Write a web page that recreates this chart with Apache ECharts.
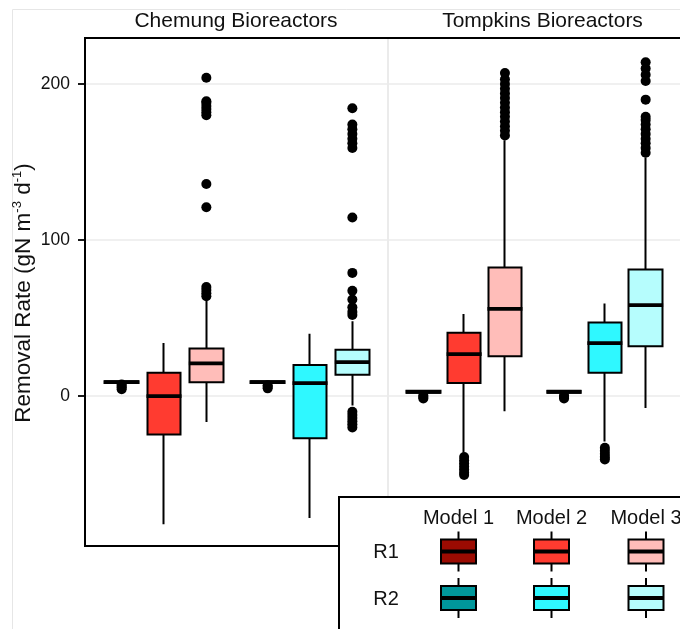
<!DOCTYPE html>
<html>
<head>
  <meta charset="UTF-8">
  <title>Removal Rate by Bioreactor</title>
  <script src="https://cdn.jsdelivr.net/npm/echarts@6/dist/echarts.min.js"></script>
  <style>
    html, body { margin: 0; padding: 0; background: #fff; }
    #chart { width: 680px; height: 629px; }
  </style>
</head>
<body>
  <div id="chart"></div>
  <script>
    // categories
    const facets = ['Chemung Bioreactors', 'Tompkins Bioreactors'];
    const reps = ['R1', 'R2'];
    const models = ['Model 1', 'Model 2', 'Model 3'];
    const yTicks = [0, 100, 200];

    // box stats: [lower whisker, Q1, median, Q3, upper whisker]
    // order: R1 Model 1..3, R2 Model 1..3
    const chemungStats = [
      [8, 8.5, 9, 9.5, 10],
      [-82, -24.5, 0, 15, 34],
      [-16.5, 9, 21, 30.5, 61],
      [8, 8.5, 9, 9.5, 10],
      [-78, -27, 8.3, 20, 40],
      [-6, 13.7, 21.8, 29.7, 48]
    ];
    const tompkinsStats = [
      [1.5, 2.2, 2.8, 3.4, 4],
      [-36, 8.5, 27, 40.6, 52.6],
      [-9.6, 25.6, 56, 82.5, 164],
      [1.5, 2.2, 2.8, 3.4, 4],
      [-29, 15, 34, 47.2, 59.4],
      [-7.5, 32, 58.3, 81.2, 153]
    ];

    // outliers, same order
    const chemungOutliers = [
      [4.5, 5.5, 6.5, 7.5],
      [],
      [64, 66, 68, 70, 121, 136, 180, 182, 184, 186, 188, 189, 204],
      [5, 6, 7],
      [],
      [-20, -18, -16, -14, -12, -10, 52, 54, 57, 62, 67.5, 79, 114.5, 159, 162, 165, 168, 171, 174, 184.5]
    ];
    const tompkinsOutliers = [
      [-1.5, -0.5, 0.5],
      [-39, -41, -43, -45, -47, -49, -50.5],
      [167, 170, 173, 176, 179, 182, 185, 188, 191, 194, 197, 200, 203, 207],
      [-1.5, -0.5, 0.5],
      [-33, -35, -37, -39, -40.5],
      [156, 159, 162, 165, 168, 171, 174, 177, 179, 190, 202, 206, 210, 214]
    ];

    const fills = [
      ['#9b0b02', '#ff3b30', '#ffbdb9'],
      ['#00979b', '#2ff8ff', '#b6fdfd']
    ];
    const font = 'Liberation Sans, Arial, sans-serif';
    const gridColor = '#ebebeb';
    const lw = 2;

    // dodge: rep is the category, models side by side
    function xPos(i) {
      const rep = Math.floor(i / models.length);
      const m = i % models.length;
      return rep + 1 + (m - 1) * 0.29;
    }
    function fillOf(i) {
      return fills[Math.floor(i / models.length)][i % models.length];
    }

    const stats = [chemungStats, tompkinsStats];
    const outliers = [chemungOutliers, tompkinsOutliers];

    const series = [];
    stats.forEach(function (st, f) {
      series.push({
        type: 'candlestick',
        xAxisIndex: f,
        yAxisIndex: f,
        barWidth: 34,
        z: 2,
        data: st.map(function (s, i) {
          return {
            value: [xPos(i), s[1], s[3], s[0], s[4]],
            itemStyle: {
              color: fillOf(i), color0: fillOf(i),
              borderColor: '#000', borderColor0: '#000', borderWidth: lw
            }
          };
        })
      });
      series.push({
        type: 'scatter',
        xAxisIndex: f,
        yAxisIndex: f,
        symbol: 'circle',
        symbolSize: 10,
        z: 3,
        itemStyle: { color: '#000', opacity: 1 },
        data: outliers[f].flatMap(function (vals, i) {
          return vals.map(function (v) { return [xPos(i), v]; });
        })
      });
      series.push({
        type: 'scatter',
        xAxisIndex: f,
        yAxisIndex: f,
        symbol: 'rect',
        symbolSize: [35, 3.8],
        z: 4,
        itemStyle: { color: '#000', opacity: 1 },
        data: st.map(function (s, i) { return [xPos(i), s[2]]; })
      });
    });

    // legend keys
    const legendCols = [458.5, 551.5, 646];
    const legendRows = [539.5, 586];
    const legendEls = [
      { type: 'rect', z: 20, shape: { x: 339, y: 497, width: 400, height: 200 },
        style: { fill: '#fff', stroke: '#000', lineWidth: 2 } }
    ];
    models.forEach(function (m, c) {
      legendEls.push({ type: 'text', z: 21, x: legendCols[c], y: 518,
        style: { text: m, fontSize: 20, fontFamily: font, fill: '#111', align: 'center', verticalAlign: 'middle' } });
    });
    reps.forEach(function (r, ri) {
      legendEls.push({ type: 'text', z: 21, x: 386, y: legendRows[ri] + 13,
        style: { text: r, fontSize: 20, fontFamily: font, fill: '#111', align: 'center', verticalAlign: 'middle' } });
      legendCols.forEach(function (cx, c) {
        const top = legendRows[ri];
        legendEls.push({ type: 'line', z: 21, shape: { x1: cx, y1: top - 8, x2: cx, y2: top + 32 },
          style: { stroke: '#000', lineWidth: lw } });
        legendEls.push({ type: 'rect', z: 22, shape: { x: cx - 17.5, y: top, width: 35, height: 24 },
          style: { fill: fills[ri][c], stroke: '#000', lineWidth: lw } });
        legendEls.push({ type: 'line', z: 23, shape: { x1: cx - 17.5, y1: top + 12, x2: cx + 17.5, y2: top + 12 },
          style: { stroke: '#000', lineWidth: 3.8 } });
      });
    });

    const option = {
      backgroundColor: '#fff',
      animation: false,
      grid: [
        { left: 85, top: 38, width: 303, height: 508 },
        { left: 388, top: 38, width: 303, height: 508 }
      ],
      xAxis: [0, 1].map(function (f) {
        return { gridIndex: f, type: 'value', min: 0.459, max: 2.534, show: false };
      }),
      yAxis: [0, 1].map(function (f) {
        return {
          gridIndex: f,
          type: 'value',
          min: -96,
          max: 229.5,
          axisLine: { show: true, lineStyle: { color: f === 0 ? '#000' : gridColor, width: 2 } },
          axisTick: { show: f === 0, length: 7, customValues: yTicks, lineStyle: { color: '#000', width: 1.8 } },
          axisLabel: { show: f === 0, customValues: yTicks, fontSize: 17.5, color: '#111', margin: 15, fontFamily: font },
          splitLine: { show: true, lineStyle: { color: gridColor, width: 1.5 } }
        };
      }),
      graphic: [
        { type: 'rect', z: 1, shape: { x: 12.5, y: 9.5, width: 700, height: 700 },
          style: { fill: 'none', stroke: '#e6e6e6', lineWidth: 1 } },
        { type: 'text', z: 5, x: 236, y: 21.5,
          style: { text: facets[0], fontSize: 21, fontFamily: font, fill: '#111', align: 'center', verticalAlign: 'middle' } },
        { type: 'text', z: 5, x: 542.5, y: 21.5,
          style: { text: facets[1], fontSize: 21, fontFamily: font, fill: '#111', align: 'center', verticalAlign: 'middle' } },
        { type: 'text', z: 5, x: 24, y: 293, rotation: Math.PI / 2,
          style: {
            text: '{n|Removal Rate (gN m}{s|-3}{n| d}{s|-1}{n|)}',
            align: 'center', verticalAlign: 'middle',
            rich: {
              n: { fontSize: 22.5, fontFamily: font, fill: '#111', lineHeight: 26 },
              s: { fontSize: 13, fontFamily: font, fill: '#111', verticalAlign: 'top', lineHeight: 15 }
            }
          } },
        { type: 'rect', z: 15, shape: { x: 85, y: 38, width: 700, height: 508 },
          style: { fill: 'none', stroke: '#000', lineWidth: 2 } }
      ].concat(legendEls),
      series: series
    };

    const chart = echarts.init(document.getElementById('chart'));
    chart.setOption(option);
  </script>
</body>
</html>
